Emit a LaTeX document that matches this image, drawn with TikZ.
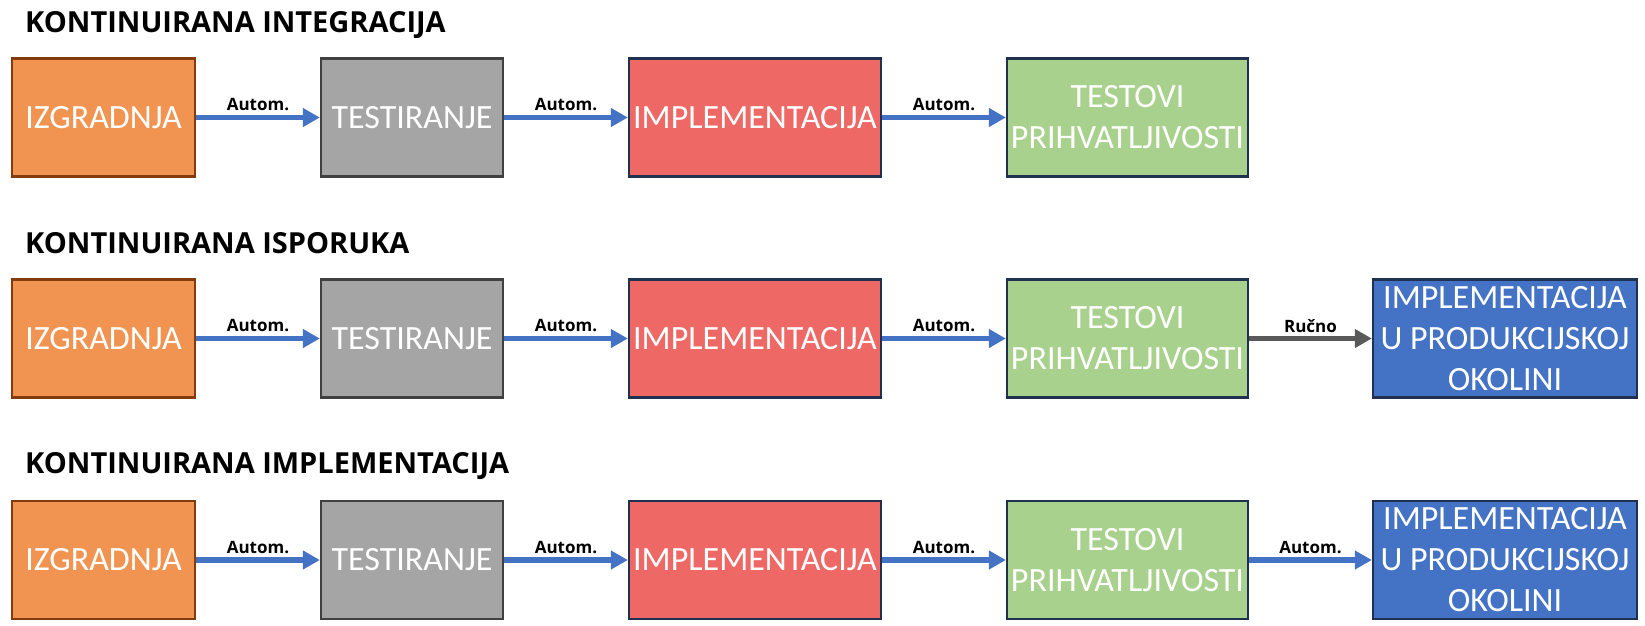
\documentclass[tikz,border=0pt]{standalone}
\usepackage{fontspec}
\setmainfont{Carlito}
\newfontfamily\lblfont{Open Sans}
\usetikzlibrary{arrows.meta}
\definecolor{orf}{HTML}{F19452}
\definecolor{ord}{HTML}{843C0C}
\definecolor{grf}{HTML}{A5A5A5}
\definecolor{grd}{HTML}{404040}
\definecolor{rdf}{HTML}{EE6966}
\definecolor{gnf}{HTML}{A9D18E}
\definecolor{blf}{HTML}{4472C4}
\definecolor{nvd}{HTML}{1F3050}
\definecolor{arb}{HTML}{4472C4}
\definecolor{arg}{HTML}{595959}
\begin{document}
\begin{tikzpicture}[x=1pt,y=-1pt,
  box/.style={draw, line width=2.3pt, minimum height=118pt, inner sep=0pt, align=center, text=white, font=\fontsize{34}{41}\selectfont},
  b1/.style={box, fill=orf, draw=ord, minimum width=183pt},
  b2/.style={box, fill=grf, draw=grd, minimum width=182pt},
  b3/.style={box, fill=rdf, draw=nvd, minimum width=252pt},
  b4/.style={box, fill=gnf, draw=nvd, minimum width=241pt},
  b5/.style={box, fill=blf, draw=nvd, minimum width=264pt},
  arr/.style={line width=5.6pt, draw=arb, -{Triangle[length=17pt,width=18pt]}},
  arrg/.style={arr, draw=arg},
  lbl/.style={font=\lblfont\bfseries\fontsize{17}{20}\selectfont, text=black, yshift=12.5pt, inner sep=0pt},
  ttl/.style={font=\lblfont\bfseries\fontsize{29}{34}\selectfont, anchor=base west, inner sep=0pt}
]
\useasboundingbox (0,0) rectangle (1645,625);
% Row 1
\node[ttl] (t1) at (25,32.5) {KONTINUIRANA INTEGRACIJA};
\node[b1] (a1) at (103.5,117.5) {IZGRADNJA};
\node[b2] (a2) at (412,117.5) {TESTIRANJE};
\node[b3] (a3) at (755,117.5) {IMPLEMENTACIJA};
\node[b4] (a4) at (1127.5,117.5) {TESTOVI\\PRIHVATLJIVOSTI};
\draw[arr] (a1.east) -- (a2.west) node[midway, lbl] (l11) {Autom.};
\draw[arr] (a2.east) -- (a3.west) node[midway, lbl] (l12) {Autom.};
\draw[arr] (a3.east) -- (a4.west) node[midway, lbl] (l13) {Autom.};
% Row 2
\node[ttl] (t2) at (25,253) {KONTINUIRANA ISPORUKA};
\node[b1] (b1n) at (103.5,338.5) {IZGRADNJA};
\node[b2] (b2n) at (412,338.5) {TESTIRANJE};
\node[b3] (b3n) at (755,338.5) {IMPLEMENTACIJA};
\node[b4] (b4n) at (1127.5,338.5) {TESTOVI\\PRIHVATLJIVOSTI};
\node[b5] (b5n) at (1505,338.5) {IMPLEMENTACIJA\\U PRODUKCIJSKOJ\\OKOLINI};
\draw[arr] (b1n.east) -- (b2n.west) node[midway, lbl] (l21) {Autom.};
\draw[arr] (b2n.east) -- (b3n.west) node[midway, lbl] (l22) {Autom.};
\draw[arr] (b3n.east) -- (b4n.west) node[midway, lbl] (l23) {Autom.};
\draw[arrg] (b4n.east) -- (b5n.west) node[midway, lbl] (l24) {Ručno};
% Row 3
\node[ttl] (t3) at (25,473.5) {KONTINUIRANA IMPLEMENTACIJA};
\node[b1] (c1) at (103.5,560) {IZGRADNJA};
\node[b2] (c2) at (412,560) {TESTIRANJE};
\node[b3] (c3) at (755,560) {IMPLEMENTACIJA};
\node[b4] (c4) at (1127.5,560) {TESTOVI\\PRIHVATLJIVOSTI};
\node[b5] (c5) at (1505,560) {IMPLEMENTACIJA\\U PRODUKCIJSKOJ\\OKOLINI};
\draw[arr] (c1.east) -- (c2.west) node[midway, lbl] (l31) {Autom.};
\draw[arr] (c2.east) -- (c3.west) node[midway, lbl] (l32) {Autom.};
\draw[arr] (c3.east) -- (c4.west) node[midway, lbl] (l33) {Autom.};
\draw[arr] (c4.east) -- (c5.west) node[midway, lbl] (l34) {Autom.};
\end{tikzpicture}
\end{document}
